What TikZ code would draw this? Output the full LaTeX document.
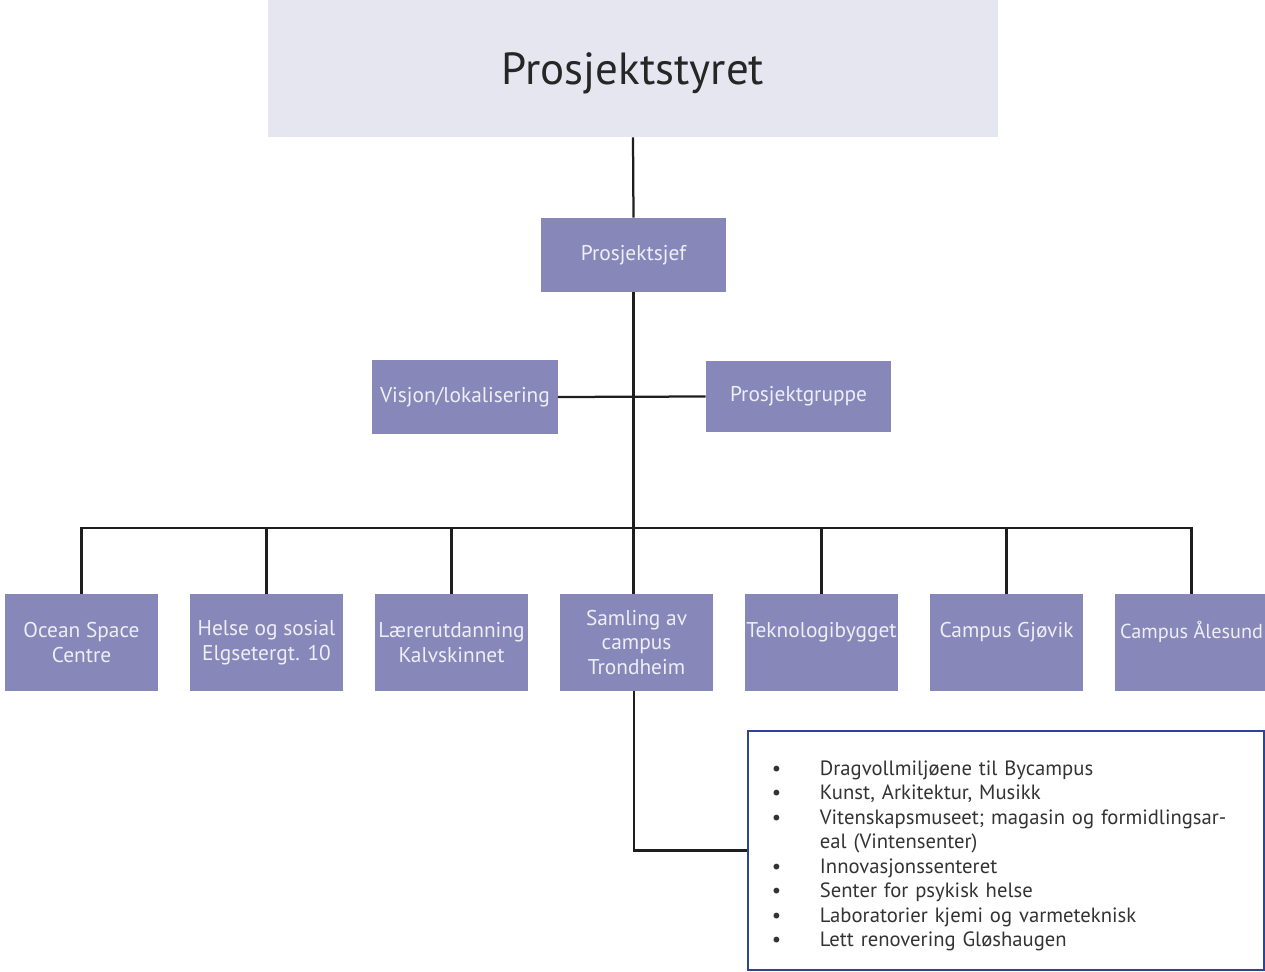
\documentclass[tikz,border=0pt]{standalone}
\usepackage{fontspec}
\setmainfont{PT Sans}
\usetikzlibrary{positioning}
\definecolor{boardfill}{HTML}{E6E6F1}
\definecolor{unitfill}{HTML}{8787B9}
\definecolor{unittext}{HTML}{EEEEF6}
\definecolor{listframe}{HTML}{2E4495}
\definecolor{linkline}{HTML}{1E1E1E}
\newcommand{\bulletrow}[1]{\makebox[1.2cm][l]{\textbullet}#1}

\begin{document}
\begin{tikzpicture}[
        x=0.025cm, y=-0.025cm,
        node distance=7.85mm,
        board/.style={rectangle, fill=boardfill, text=black!85,
                      minimum width=18.25cm, minimum height=3.425cm,
                      text height=22.4pt, text depth=0pt,
                      font=\fontsize{32}{38}\selectfont},
        unit/.style={rectangle, fill=unitfill, text=unittext, align=center, inner sep=0pt,
                     minimum width=4.625cm, minimum height=1.85cm,
                     font=\fontsize{15.2}{17.4}\selectfont},
        site/.style={unit, minimum width=3.825cm, minimum height=2.425cm},
        link/.style={draw=linkline, line width=1.6pt},
    ]
    \useasboundingbox (0,0) rectangle (1265,972);

    \node[board] (styret) at (633,68.5) {Prosjektstyret};
    \node[unit] (sjef) at (633.5,255) {Prosjektsjef};
    \node[unit] (visjon) at (465,397) {Visjon/lokalisering};
    \node[unit, minimum height=1.75cm] (gruppe) at (798.5,396.5) {Prosjektgruppe};

    \node[site] (ocean) at (81.5,642.5) {Ocean Space\\Centre};
    \node[site, right=of ocean] (helse) {Helse og sosial\\Elgsetergt. 10};
    \node[site, right=of helse] (laerer) {Lærerutdanning\\Kalvskinnet};
    \node[site, right=of laerer] (samling) {Samling av\\campus\\Trondheim};
    \node[site, right=of samling] (tekno) {Teknologibygget\\\mbox{}};
    \node[site, right=of tekno] (gjovik) {Campus Gjøvik\\\mbox{}};
    \node[site, right=of gjovik, font=\fontsize{14.4}{17.4}\selectfont] (alesund) {Campus Ålesund\\\mbox{}};

    \node[draw=listframe, line width=1.4pt, minimum width=12.9cm, minimum height=5.975cm,
          text width=11.7cm, inner xsep=0.6cm, align=left, text=black!80,
          font=\fontsize{14.7}{17.4}\selectfont] (liste) at (1006,850.5) {%
        \rule{0pt}{18pt}\bulletrow{Dragvollmiljøene til Bycampus}\\
        \bulletrow{Kunst, Arkitektur, Musikk}\\
        \bulletrow{Vitenskapsmuseet; magasin og formidlingsar-}\\
        \hspace*{1.2cm}eal (Vintensenter)\\
        \bulletrow{Innovasjonssenteret}\\
        \bulletrow{Senter for psykisk helse}\\
        \bulletrow{Laboratorier kjemi og varmeteknisk}\\
        \bulletrow{Lett renovering Gløshaugen}};

    \coordinate (bus) at (634,528);

    \draw[link] (styret.south) -- (sjef.north);
    \draw[link] (sjef.south) -- (sjef.south |- samling.north);
    \draw[link] (visjon.east) -- (gruppe.west);
    \draw[link] (ocean.north) |- (bus) -| (alesund.north);
    \foreach \site in {helse, laerer, tekno, gjovik}
        \draw[link] (\site.north) -- (\site.north |- bus);
    \draw[link] (samling.south -| bus) |- (liste.west);
\end{tikzpicture}
\end{document}
